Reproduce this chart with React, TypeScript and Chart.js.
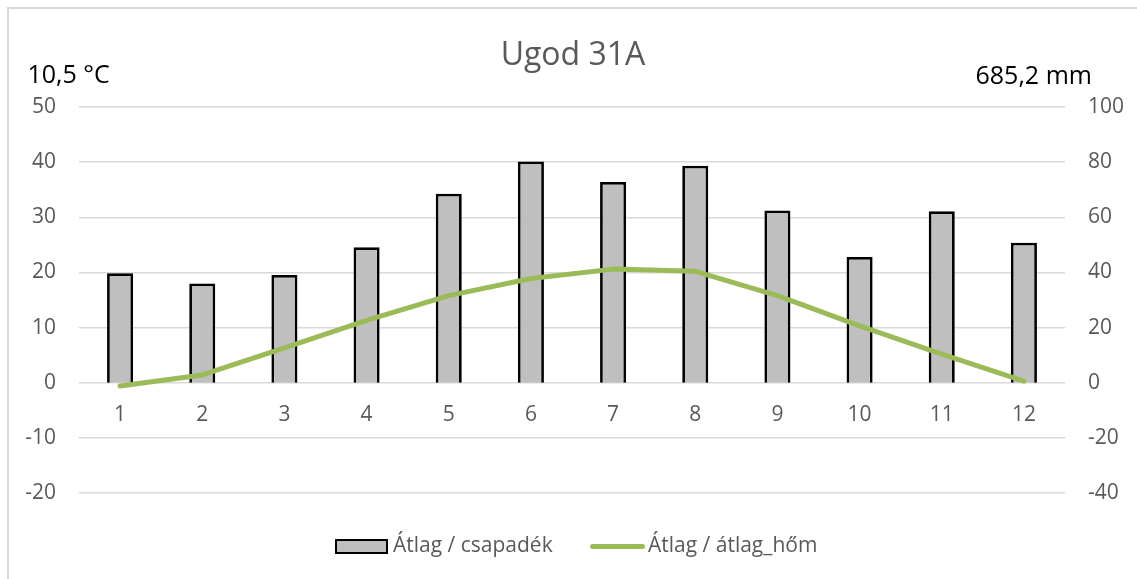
import React, { useEffect, useRef } from "react";
import { Chart, registerables } from "chart.js";

Chart.register(...registerables);

const months = ["1", "2", "3", "4", "5", "6", "7", "8", "9", "10", "11", "12"];
const precipitation = [39.7, 36.0, 39.1, 49.1, 68.5, 80.2, 72.8, 78.7, 62.5, 45.6, 62.2, 50.8];
const temperature = [-0.6, 1.4, 6.3, 11.3, 15.8, 18.9, 20.6, 20.2, 15.8, 10.3, 5.2, 0.3];
const chartTitle = "Ugod 31A";
const tempLabel = "10,5 °C";
const precLabel = "685,2 mm";
const barSeriesName = "Átlag / csapadék";
const lineSeriesName = "Átlag / átlag_hőm";

const FONT = "'Open Sans', 'Noto Sans', sans-serif";
const GRAY = "#595959";
const GREEN = "#9bbb59";

export default function App() {
  const canvasRef = useRef<HTMLCanvasElement | null>(null);

  useEffect(() => {
    const ctx = canvasRef.current;
    if (!ctx) return;
    const chart = new Chart(ctx, {
      type: "bar",
      data: {
        labels: months,
        datasets: [
          {
            type: "bar",
            label: barSeriesName,
            data: precipitation,
            yAxisID: "y1",
            backgroundColor: "#bfbfbf",
            borderColor: "#000000",
            borderWidth: 2.75,
            categoryPercentage: 1,
            barPercentage: 0.317,
            order: 1,
          },
          {
            type: "line",
            label: lineSeriesName,
            data: temperature,
            yAxisID: "y",
            borderColor: GREEN,
            borderWidth: 5,
            borderCapStyle: "round",
            borderJoinStyle: "round",
            pointRadius: 0,
            tension: 0,
            fill: false,
            order: 0,
          },
        ],
      },
      options: {
        animation: false,
        responsive: false,
        maintainAspectRatio: false,
        layout: { padding: { top: 98, bottom: 86, left: 0, right: 0 } },
        plugins: {
          legend: { display: false },
          title: { display: false },
          tooltip: { enabled: false },
        },
        scales: {
          x: {
            type: "category",
            position: { y: 0 } as any,
            offset: true,
            grid: { display: false, drawTicks: false },
            border: { display: false },
            ticks: {
              color: GRAY,
              font: { family: FONT, size: 21 },
              padding: 20,
              maxRotation: 0,
              autoSkip: false,
            },
          },
          y: {
            type: "linear",
            position: "left",
            min: -20,
            max: 50,
            grid: { color: "#d9d9d9", lineWidth: 1.5, drawTicks: false },
            border: { display: false },
            ticks: {
              stepSize: 10,
              color: GRAY,
              font: { family: FONT, size: 21 },
              padding: 23,
            },
            afterFit: (scale: any) => {
              scale.width = 70;
            },
          },
          y1: {
            type: "linear",
            position: "right",
            min: -40,
            max: 100,
            grid: { display: false, drawTicks: false },
            border: { display: false },
            ticks: {
              stepSize: 20,
              color: GRAY,
              font: { family: FONT, size: 21 },
              padding: 23,
            },
            afterFit: (scale: any) => {
              scale.width = 72;
            },
          },
        },
      },
    });
    return () => chart.destroy();
  }, []);

  return (
    <div
      style={{
        position: "fixed",
        left: 7,
        top: 7,
        width: 1128,
        height: 570,
        borderTop: "2px solid #d9d9d9",
        borderLeft: "2px solid #d9d9d9",
        background: "#ffffff",
        overflow: "hidden",
        fontFamily: FONT,
      }}
    >
      <canvas
        ref={canvasRef}
        width={1128}
        height={570}
        style={{ position: "absolute", left: 0, top: 0, width: 1128, height: 570 }}
      />
      <div
        style={{
          position: "absolute",
          left: 0,
          width: 1128,
          top: 27.6,
          textAlign: "center",
          fontSize: 32,
          lineHeight: "32px",
          color: GRAY,
          whiteSpace: "nowrap",
        }}
      >
        {chartTitle}
      </div>
      <div
        style={{
          position: "absolute",
          left: 18.5,
          top: 51.8,
          fontSize: 25,
          lineHeight: "25px",
          color: "#000000",
          whiteSpace: "nowrap",
        }}
      >
        {tempLabel}
      </div>
      <div
        style={{
          position: "absolute",
          left: 966.5,
          top: 53,
          fontSize: 25,
          lineHeight: "25px",
          color: "#000000",
          whiteSpace: "nowrap",
        }}
      >
        {precLabel}
      </div>
      <div
        style={{
          position: "absolute",
          left: 326,
          top: 530,
          width: 49,
          height: 11,
          background: "#bfbfbf",
          border: "2.5px solid #000000",
        }}
      />
      <div
        style={{
          position: "absolute",
          left: 384,
          top: 525.4,
          fontSize: 21,
          lineHeight: "21px",
          color: GRAY,
          whiteSpace: "nowrap",
        }}
      >
        {barSeriesName}
      </div>
      <div
        style={{
          position: "absolute",
          left: 581,
          top: 534.5,
          width: 55,
          height: 5,
          borderRadius: 3,
          background: GREEN,
        }}
      />
      <div
        style={{
          position: "absolute",
          left: 639,
          top: 525.4,
          fontSize: 21,
          lineHeight: "21px",
          color: GRAY,
          whiteSpace: "nowrap",
        }}
      >
        {lineSeriesName}
      </div>
    </div>
  );
}
